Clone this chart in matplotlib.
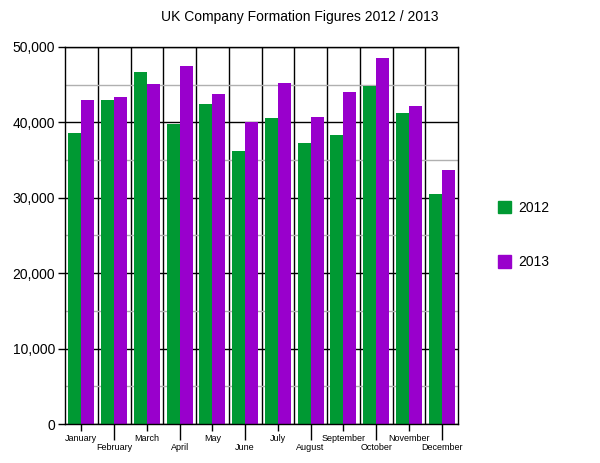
import numpy as np
import matplotlib.pyplot as plt
from matplotlib.ticker import MultipleLocator, FuncFormatter, FixedLocator
from matplotlib.patches import Patch

plt.rcParams['font.family'] = ['Liberation Sans', 'DejaVu Sans']

# Data
months = ['January', 'February', 'March', 'April', 'May', 'June', 'July',
          'August', 'September', 'October', 'November', 'December']
y2012 = [38600, 43000, 46700, 39800, 42400, 36200, 40600, 37300, 38300, 44800, 41200, 30500]
y2013 = [43000, 43400, 45100, 47500, 43800, 40000, 45200, 40700, 44000, 48500, 42200, 33700]

green = '#009933'
purple = '#9900cc'

fig = plt.figure(figsize=(6, 4.63), dpi=100)
ax = fig.add_axes([65 / 600, 39 / 463, 393 / 600, 377 / 463])

x = np.arange(len(months))
w = 0.4
ax.bar(x - w / 2, y2012, w, color=green, zorder=3)
ax.bar(x + w / 2, y2013, w, color=purple, zorder=3)

ax.set_xlim(-0.5, len(months) - 0.5)
ax.set_ylim(0, 50000)

# horizontal grid: black major, grey minor
ax.yaxis.set_major_locator(MultipleLocator(10000))
ax.yaxis.set_minor_locator(MultipleLocator(5000))
ax.yaxis.set_major_formatter(FuncFormatter(lambda v, p: f'{int(v):,}'))
ax.grid(axis='y', which='major', color='black', linewidth=1, zorder=1)
ax.grid(axis='y', which='minor', color='#b0b0b0', linewidth=1, zorder=1)
ax.tick_params(axis='y', which='major', length=5, width=1, labelsize=10, pad=2)
ax.tick_params(axis='y', which='minor', length=0)

# vertical separators between categories
for b in x[:-1] + 0.5:
    ax.axvline(b, color='black', linewidth=1, zorder=1)

# staggered month labels
ax.xaxis.set_major_locator(FixedLocator(x[0::2]))
ax.xaxis.set_major_formatter(FuncFormatter(lambda v, p: months[int(round(v))]))
ax.xaxis.set_minor_locator(FixedLocator(x[1::2]))
ax.xaxis.set_minor_formatter(FuncFormatter(lambda v, p: months[int(round(v))]))
ax.tick_params(axis='x', which='major', length=5, width=1, labelsize=6.5, pad=2.5)
ax.tick_params(axis='x', which='minor', length=11.5, width=1, labelsize=6.5, pad=2.5)

for s in ax.spines.values():
    s.set_color('black')
    s.set_linewidth(1)
    s.set_zorder(4)

fig.text(300 / 600, 1 - 17 / 463, 'UK Company Formation Figures 2012 / 2013',
         ha='center', va='center', fontsize=10)

handles = [Patch(color=green, label='2012'), Patch(color=purple, label='2013')]
fig.legend(handles=handles, loc='center left', bbox_to_anchor=(485 / 600, 1 - 235 / 463),
           frameon=False, fontsize=10, handlelength=1, handleheight=1,
           labelspacing=2.9, handletextpad=0.5)

plt.savefig('out.png', dpi=100)
